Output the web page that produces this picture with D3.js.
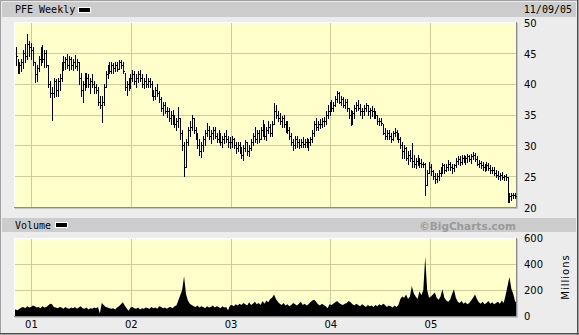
<!DOCTYPE html>
<html>
<head>
<meta charset="utf-8">
<script src="https://cdn.jsdelivr.net/npm/d3@7"></script>
<style>
body{margin:0;background:#ececec;}
svg{display:block;}
text{font-family:"DejaVu Sans",sans-serif;font-size:10px;fill:#000;}
.mono{font-family:"DejaVu Sans Mono",monospace;font-size:10px;}
</style>
</head>
<body>
<script>
//weekly bars start on this monday, one value per week in every array below
var firstWeek="2000-11-06";

//weekly highs (by year)
var high2000=[46,44,43.5,44,45.5,46.5,48,47];
var high2001=[46.6,46,43.5,43,44.5,46,46.3,45.5,45.5,43,40.5,39.5,41,40.8,41,41.5,43.5,44.5,44.3,44.8,44.5,44.3,44,44.6,44,43.5,41.7,40.5,41.7,41.7,41.5,41,41.5,40.5,40,39.5,38,38,40,42,43,43.5,43.5,43.3,43.5,43.5,43.8,43.8,43.5,41.7,40.5,41];
var high2002=[41.5,42.2,42,41.5,42,42.2,41.5,41,41.5,41,41,40.5,39,39.5,40,38.8,37.8,37,37,36.2,36,35.5,35.8,35,34.5,36.2,34.5,32.5,30.5,31,33,34,34.9,34.5,33,32,31,30.5,31.5,32.5,33.6,33.2,32.5,33,33,32,32.5,32,31.5,32,32.5,31.5];
var high2003=[31.4,31.5,31.2,30.5,30.5,30.5,29.8,30,30.9,30.5,30,31,32,33,32.5,32.5,33,34.1,33.5,33,34,33.5,34,36.9,36.5,35.5,35.2,34.8,35,34,34,33,32,31,31.5,31.5,31,31,31.4,31,31.2,31,31.4,32.5,34,34.5,34,34.3,34.5,34.6,35.5,36.5];
var high2004=[37,37.4,37,38,38.8,38.6,38,37.8,37.5,37.5,36,35.7,35.5,36.5,37,37.4,36.7,36,36.5,36.9,36.5,36,36.3,36,35.5,35,34.4,34.4,33.5,32.8,32.5,32.5,32,32.3,32.8,32.5,32,31.4,30.5,30,29.8,29,29.2,30.4,28.5,28,28.5,28,27.8,27.3,27.1,26,27.3];
var high2005=[27,26,25.5,25.5,26,26.5,27.2,27,27,27.6,27.3,27,27,28,28.3,28.2,28.5,28.5,28.3,28.6,28.5,28.6,28.9,28.8,28.3,27.6,27.5,27.3,27,27.3,27.2,26.8,26.5,26.5,26,25.8,25.5,25.6,25.2,25.3,24.8,22.3,22.3,22.3,22.2];

//weekly lows
var low2000=[43,41.8,41.7,42,42.5,43.5,44,44.5];
var low2001=[44,43,40.3,40.5,42,43,43.5,42.7,42.7,39.5,37.8,34.1,37.8,38,38,39,40.5,42.2,42.3,42.5,42.2,42.3,42.2,42.5,42.2,40,38,37,39,39.5,39.5,38.5,39.5,38.5,38.5,36.5,36,33.8,36.5,39.5,41,41.7,41.8,41.7,42,42,42.3,42.5,41.7,39,38.2,39];
var low2002=[39.3,40.5,40,39.5,40.3,40.5,39.5,39.3,39.5,39.5,39.5,38,37.4,37.5,38,37,35.5,35,35.2,34.6,34,33.5,33.5,33,32.5,33,31,29.2,25,26.5,30,31.5,32.5,32,31,29.5,28.5,28.1,29,30,31.5,31,30.4,31,31.2,30.5,30.5,30,29.7,30.3,30.5,29.8];
var low2003=[29.5,29.8,29.5,28.8,29,28.8,28,27.6,29,28.5,28.2,29.2,30,30.5,30.3,30.5,31,31.5,31,30.9,32,31.5,31.5,33.5,34.5,34,33.5,33,33,32.2,32,31,30,29.2,29.5,29.8,29.5,29.8,29.8,29.7,29.8,29.3,30,30.5,31.5,32.5,32.5,32.8,33,33.2,33.5,34.5];
var low2004=[35,35.5,35.5,36.3,37,36.8,36.5,36.2,36,35.5,34.5,33.3,33.5,34.5,35.5,35.8,35,34.5,35,35.5,35,34.5,34.8,34.5,34.4,33.5,33.3,33.3,31.8,31,31,31,30.5,30.8,31.5,31,30.5,29.5,28,28,27.6,27,27.5,26.5,26.5,26.3,26.8,26.5,26.5,26.5,22,23.5,25.5];
var low2005=[25.2,24.5,23.9,24,24.3,25,25.5,25.5,25.8,26,26,25.5,25.8,26.5,27,26.8,27,27.3,27,27.3,27.5,27.2,27.8,27.5,26.8,26.5,26.3,26,25.8,26,26,25.5,25.5,25.2,24.8,24.6,24.4,24.5,24.4,24.4,20.8,20.8,21.2,21.5,21.5];

//weekly closes
var close2000=[44.5,42.5,43,43.5,45,44.5,46.5,46];
var close2001=[45.5,43.5,41.5,42.5,44,45.5,44,45,43,40,38.5,38.5,40.5,39,40.5,41,43,43.5,44,43,44,43,43.5,42.8,43.5,41,39,40,40.5,41,40,40.5,40,39.5,39,37,36.5,37,39.5,41.5,42.5,42,43,42.5,43,42.3,43.5,43,42,39.5,40,40.5];
var close2002=[41,41.5,40.5,41,41.5,41,40,40.5,40,40.5,40,38.5,38,39,38.5,37.5,36,36.5,35.5,35.5,34.5,35,34,33.5,34,34.5,32,30,26.5,30.5,32.5,33,34.5,32.5,31.5,30,29,30,31,32,32.5,31.5,32,32.5,31.5,31,31.5,30.5,31,31.5,31,30.5];
var close2003=[30.5,31,30,29.5,30,29,28.5,29.5,30.5,29,29.5,30.5,31.5,31,32,31,32.5,33.5,31.5,32.5,33,32,33.5,35.5,35,34.5,34,34.5,33.5,33,32.5,31.5,30.5,30,31,30.5,30,30.5,30.2,30.5,30.3,30.5,31,32,33.5,33,33.5,33.5,34,34,35,35.5];
var close2004=[36.5,36,36.5,37.5,38.5,37,37.5,36.5,37,36,35,34,35.3,36,36.5,36,35.5,35.5,36,36.5,35.5,35.8,35.5,35,35,34,34,33.7,32,31.5,32,31.5,31,32,32.2,31.5,31,30,29,29.5,28,28.5,28,27.5,27,27.5,27,27.2,27,27,23.5,25.5,26.5];
var close2005=[25.8,25,24.5,25,25.5,26,26.8,26,26.5,27,26.5,26.3,26.8,27.5,27.8,27.3,28,27.8,28,28.3,27.8,28.3,28.5,27.8,27,27.2,26.8,26.5,26.5,26.8,26.3,26,26,25.5,25.2,25,25.2,24.8,25,24.8,21.5,21.8,22,22,21.8];

//weekly volume, millions of shares
var vol2000=[50,45,55,65,70,60,75,65];
var vol2001=[70,80,75,65,70,60,75,65,70,80,95,90,70,65,60,70,65,55,70,60,55,65,60,70,55,65,75,60,55,65,50,60,55,65,60,70,20,100,85,70,65,60,55,60,50,65,75,90,105,80,60,40];
var vol2002=[65,70,60,55,65,50,60,55,65,60,55,70,60,65,55,75,70,60,65,55,65,70,60,75,80,120,160,200,305,170,120,95,85,75,70,80,65,75,70,60,75,65,70,80,65,75,70,60,75,65,70,45];
var vol2003=[80,85,75,90,80,95,85,100,90,80,105,85,95,110,90,100,85,115,95,120,105,130,140,165,130,110,95,85,100,80,90,75,85,100,90,80,95,110,85,95,80,90,105,120,125,110,90,80,95,85,75,60];
var vol2004=[90,85,95,105,115,100,90,85,95,100,115,105,90,80,95,85,75,90,80,70,85,75,80,70,85,75,90,80,95,85,70,80,75,65,80,70,85,130,150,140,165,130,150,230,175,150,130,190,160,200,455,200,140];
var vol2005=[150,165,180,140,125,150,205,140,120,110,125,170,205,140,110,100,115,95,105,90,100,120,140,165,130,105,95,110,90,100,115,95,105,90,100,110,95,120,100,160,230,300,210,170,110];

//axis tick values
var priceTicks=[20,25,30,35,40,45,50];
var priceGrid=[25,30,35,40,45];
var volTicks=[0,200,400,600];
var volGrid=[200,400];

//chart frame positions
var width=579,
	height=335,
	plotLeft=14,
	plotRight=516,
	priceTop=22,
	priceBottom=207,
	volTop=238,
	volBottom=316;

//join the yearly arrays into one record per week
var highs=[].concat(high2000,high2001,high2002,high2003,high2004,high2005);
var lows=[].concat(low2000,low2001,low2002,low2003,low2004,low2005);
var closes=[].concat(close2000,close2001,close2002,close2003,close2004,close2005);
var vols=[].concat(vol2000,vol2001,vol2002,vol2003,vol2004,vol2005);
var start=d3.timeParse("%Y-%m-%d")(firstWeek);
var weeks=highs.map(function(h,i){
	return {date:d3.timeWeek.offset(start,i),high:h,low:lows[i],close:closes[i],vol:vols[i]};
});

var svg=d3.select("body")
	.append("svg")
	.attr("width",width)
	.attr("height",height);

//scales
var x=d3.scaleTime()
	.domain([new Date(2000,9,31),new Date(2005,10,10)])
	.range([plotLeft,plotRight]);
var yPrice=d3.scaleLinear()
	.domain([20,50])
	.range([priceBottom,priceTop]);
var yVol=d3.scaleLinear()
	.domain([0,600])
	.range([volBottom,volTop]);

//outer frame
svg.append("rect")
	.attr("x",0.5).attr("y",0.5)
	.attr("width",width-1).attr("height",height-1)
	.attr("fill","#ececec")
	.attr("stroke","#a0a0a0");
svg.append("line")
	.attr("x1",width-1.5).attr("x2",width-1.5)
	.attr("y1",0).attr("y2",height)
	.attr("stroke","#505050");
svg.append("line")
	.attr("x1",0).attr("x2",width)
	.attr("y1",height-1.5).attr("y2",height-1.5)
	.attr("stroke","#505050");

//header bars
svg.append("rect")
	.attr("x",2).attr("y",2)
	.attr("width",width-5).attr("height",15)
	.attr("fill","#cccccc");
svg.append("rect")
	.attr("x",2).attr("y",218)
	.attr("width",width-5).attr("height",14)
	.attr("fill","#cccccc");

//header texts
svg.append("text").attr("class","mono")
	.attr("x",15).attr("y",13)
	.text("PFE Weekly");
svg.append("text").attr("class","mono")
	.attr("x",572).attr("y",13)
	.attr("text-anchor","end")
	.text("11/09/05");
svg.append("text").attr("class","mono")
	.attr("x",15).attr("y",229)
	.text("Volume");
svg.append("text")
	.attr("x",516).attr("y",229.5)
	.attr("text-anchor","end")
	.style("font-weight","bold")
	.style("font-size","10.5px")
	.style("fill","#9a9a9a")
	.text("\u00a9BigCharts.com");

//legend swatches
[[78,7],[55,222]].forEach(function(p){
	svg.append("rect")
		.attr("x",p[0]+0.5).attr("y",p[1]+0.5)
		.attr("width",12).attr("height",5)
		.attr("fill","#000")
		.attr("stroke","#fff");
});

//plot panels
function panel(top,bottom){
	svg.append("rect")
		.attr("x",plotLeft).attr("y",top)
		.attr("width",plotRight-plotLeft).attr("height",bottom-top)
		.attr("fill","#ffffcc");
	//light top/left edge, dark bottom/right edge
	svg.append("path")
		.attr("d","M"+(plotLeft+0.5)+","+(bottom)+"V"+(top+0.5)+"H"+plotRight)
		.attr("fill","none").attr("stroke","#ffffff");
	svg.append("path")
		.attr("d","M"+(plotRight+0.5)+","+(top)+"V"+(bottom+0.5)+"H"+plotLeft)
		.attr("fill","none").attr("stroke","#8c8c8c");
	svg.append("path")
		.attr("d","M"+(plotRight+1.5)+","+(top+1)+"V"+(bottom+1.5)+"H"+(plotLeft+1))
		.attr("fill","none").attr("stroke","#c4c4c4");
}
panel(priceTop,priceBottom);
panel(volTop,volBottom);

//gridlines
var years=x.ticks(d3.timeYear);
function vGrid(top,bottom){
	svg.append("g")
		.selectAll("line")
		.data(years)
		.enter()
		.append("line")
		.attr("x1",function(d){return Math.round(x(d))+0.5;})
		.attr("x2",function(d){return Math.round(x(d))+0.5;})
		.attr("y1",top+1).attr("y2",bottom)
		.attr("stroke","#cccc99");
}
vGrid(priceTop,priceBottom);
vGrid(volTop,volBottom);
svg.append("g")
	.selectAll("line")
	.data(priceGrid)
	.enter()
	.append("line")
	.attr("x1",plotLeft+1).attr("x2",plotRight)
	.attr("y1",function(d){return Math.round(yPrice(d))+0.5;})
	.attr("y2",function(d){return Math.round(yPrice(d))+0.5;})
	.attr("stroke","#cccc99");
svg.append("g")
	.selectAll("line")
	.data(volGrid)
	.enter()
	.append("line")
	.attr("x1",plotLeft+1).attr("x2",plotRight)
	.attr("y1",function(d){return Math.round(yVol(d))+0.5;})
	.attr("y2",function(d){return Math.round(yVol(d))+0.5;})
	.attr("stroke","#cccc99");

//price bars: high-low line with close tick
var bars=svg.append("g").attr("shape-rendering","crispEdges");
bars.selectAll(".hl")
	.data(weeks)
	.enter()
	.append("rect")
	.attr("class","hl")
	.attr("x",function(d){return Math.round(x(d.date));})
	.attr("y",function(d){return Math.round(yPrice(d.high));})
	.attr("width",1)
	.attr("height",function(d){return Math.round(yPrice(d.low))-Math.round(yPrice(d.high))+1;})
	.attr("fill","#000");
bars.selectAll(".cl")
	.data(weeks)
	.enter()
	.append("rect")
	.attr("class","cl")
	.attr("x",function(d){return Math.round(x(d.date))+1;})
	.attr("y",function(d){return Math.round(yPrice(d.close));})
	.attr("width",1)
	.attr("height",1)
	.attr("fill","#000");

//volume area, closed at both plot edges
var volArea=d3.area()
	.x(function(d){return x(d.date);})
	.y0(yVol(0))
	.y1(function(d){return yVol(d.vol);});
var volPoints=[{date:x.invert(plotLeft+1),vol:weeks[0].vol}]
	.concat(weeks)
	.concat([{date:x.invert(plotRight),vol:weeks[weeks.length-1].vol}]);
svg.append("path")
	.datum(volPoints)
	.attr("d",volArea)
	.attr("fill","#000");

//right axis labels
var priceAxis=svg.append("g")
	.attr("transform","translate("+plotRight+",1)")
	.call(d3.axisRight(yPrice).tickValues(priceTicks).tickSize(0).tickPadding(8));
var volAxis=svg.append("g")
	.attr("transform","translate("+plotRight+",0)")
	.call(d3.axisRight(yVol).tickValues(volTicks).tickSize(0).tickPadding(8));
//year labels under volume
var yearAxis=svg.append("g")
	.attr("transform","translate(0,"+volBottom+")")
	.call(d3.axisBottom(x).ticks(d3.timeYear).tickFormat(d3.timeFormat("%y")).tickSize(0).tickPadding(5));
[priceAxis,volAxis,yearAxis].forEach(function(a){
	a.select(".domain").remove();
	a.selectAll("text").attr("font-family",null).attr("font-size",null).attr("fill","#000");
});

//units label
svg.append("text")
	.attr("transform","translate(569,277) rotate(-90)")
	.attr("text-anchor","middle")
	.style("letter-spacing","1px")
	.text("Millions");
</script>
</body>
</html>
